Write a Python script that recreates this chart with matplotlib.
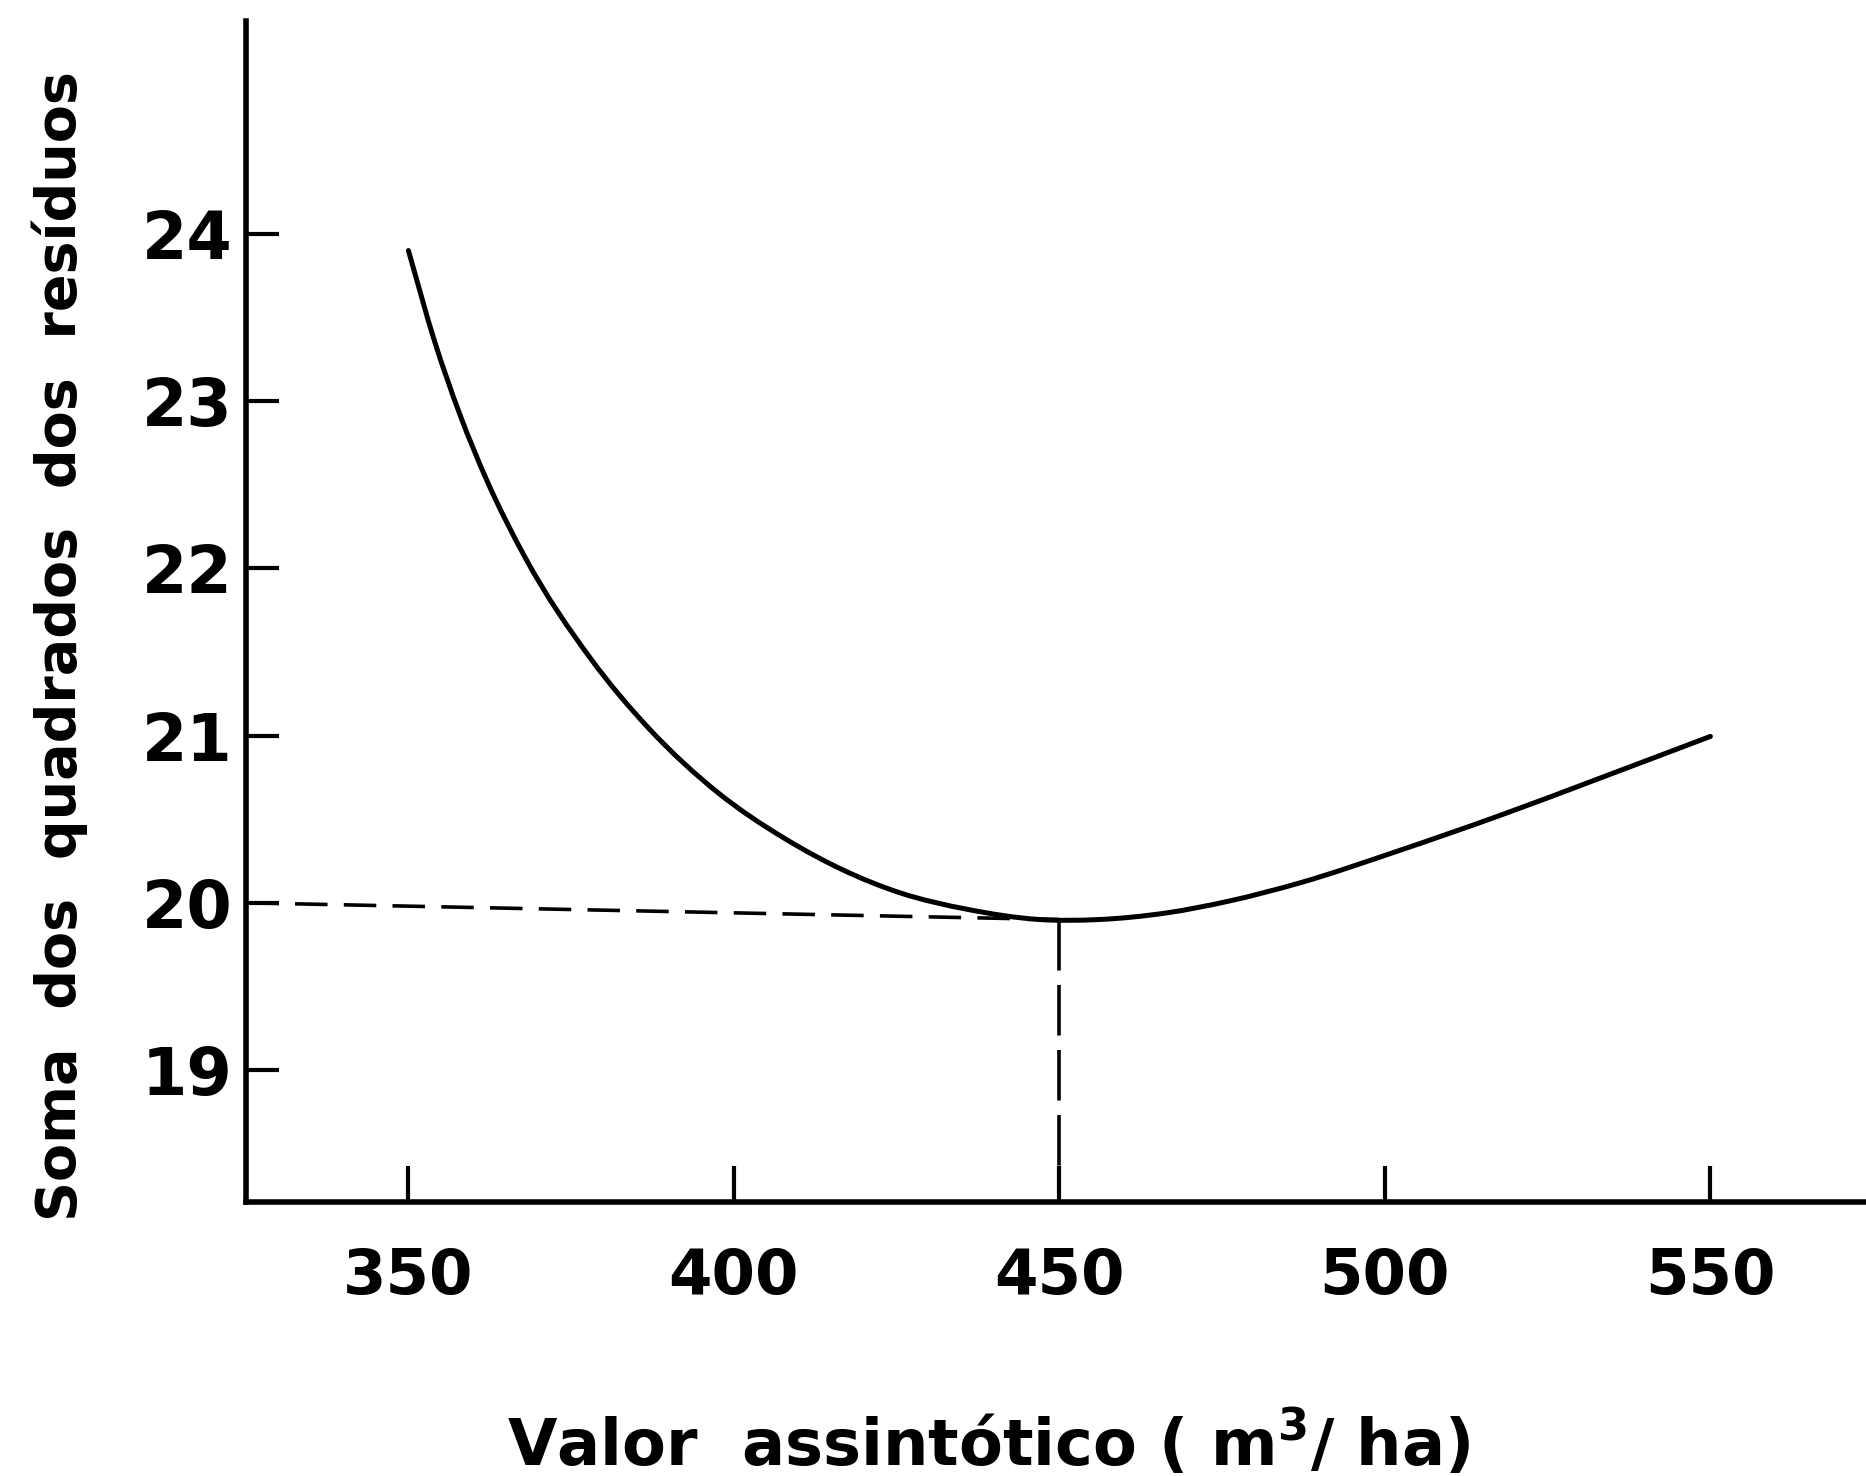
import numpy as np
import matplotlib
matplotlib.use("Agg")
import matplotlib.pyplot as plt
from matplotlib.path import Path
from matplotlib.patches import PathPatch

# valores (valor assintotico x soma dos quadrados dos residuos)
valor_assint = [350, 354, 358, 362, 368, 378, 387, 397.5, 408, 425.5, 436,
                447, 456, 466.5, 476, 487, 502, 517.5, 533, 550]
soma_quad = [23.90, 23.36, 22.91, 22.53, 22.06, 21.46, 21.04, 20.66, 20.38,
             20.06, 19.96, 19.90, 19.90, 19.94, 20.01, 20.12, 20.31, 20.52,
             20.745, 20.995]

x_ticks = [350, 400, 450, 500, 550]
y_ticks = [19, 20, 21, 22, 23, 24]

# linha de referencia do minimo
x_min = 450
y_ref = 20
y_at_min = 19.90

plt.rcParams['font.family'] = ['DejaVu Sans']


def smooth_path(ax, xs, ys):
    # curva suave (Hermite/Bezier) pelos pontos lidos, em coordenadas de tela
    pts = ax.transData.transform(np.column_stack([xs, ys]))
    X, Y = pts[:, 0], pts[:, 1]
    h = np.diff(X)
    d = np.diff(Y) / h
    m = np.empty(len(X))
    m[0], m[-1] = d[0], d[-1]
    m[1:-1] = (d[:-1] * h[1:] + d[1:] * h[:-1]) / (h[:-1] + h[1:])
    verts = [pts[0]]
    codes = [Path.MOVETO]
    for i in range(len(X) - 1):
        verts += [(X[i] + h[i] / 3, Y[i] + m[i] * h[i] / 3),
                  (X[i + 1] - h[i] / 3, Y[i + 1] - m[i + 1] * h[i] / 3),
                  (X[i + 1], Y[i + 1])]
        codes += [Path.CURVE4] * 3
    return Path(verts, codes)


fig = plt.figure(figsize=(18.66, 14.76), dpi=100)
ax = fig.add_axes([0.132, 0.1855, 0.868, 0.80])

xlim = (325.1, 573.9)
ylim = (18.21, 25.27)
ax.set_xlim(xlim)
ax.set_ylim(ylim)

patch = PathPatch(smooth_path(ax, valor_assint, soma_quad), facecolor='none',
                  edgecolor='black', lw=3.6, capstyle='round',
                  transform=None)
ax.add_artist(patch)

# linhas tracejadas ate o minimo
ax.plot([xlim[0], x_min], [y_ref, y_at_min], color='black', lw=2.6,
        dashes=(9, 4.5))
ax.plot([x_min, x_min], [y_at_min, ylim[0]], color='black', lw=2.6,
        dashes=(14, 4))

for s in ['top', 'right']:
    ax.spines[s].set_visible(False)
for s in ['left', 'bottom']:
    ax.spines[s].set_linewidth(4)

ax.set_xticks(x_ticks)
ax.set_yticks(y_ticks)
ax.tick_params(axis='y', direction='in', length=24, width=3, pad=10,
               labelsize=47)
ax.tick_params(axis='x', direction='in', length=26, width=3, pad=32,
               labelsize=45)
for lab in ax.get_xticklabels() + ax.get_yticklabels():
    lab.set_fontweight('bold')

fig.text(0.032, 0.562, 'Soma  dos  quadrados  dos  resíduos', rotation=90,
         ha='center', va='center', fontsize=40, fontweight='bold')
fig.text(0.53, 0.022, 'Valor  assintótico ( m$^\\mathbf{3}$/ ha)',
         ha='center', va='center', fontsize=46, fontweight='bold')

fig.savefig('out.png', dpi=100, facecolor='white')
